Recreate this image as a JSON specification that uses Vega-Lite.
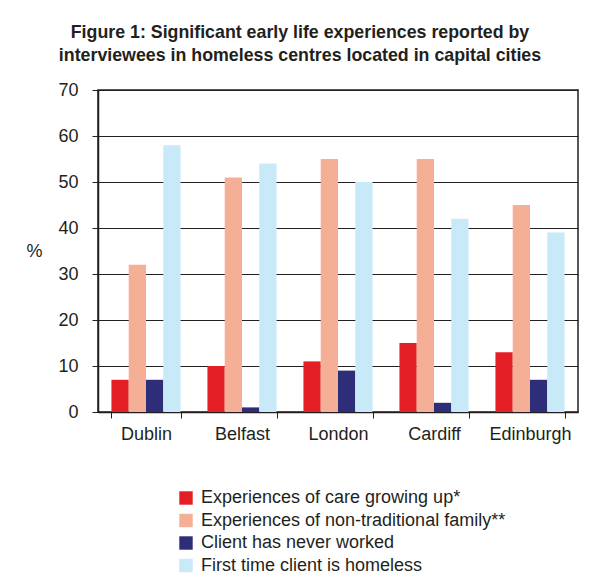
{
  "$schema": "https://vega.github.io/schema/vega-lite/v6.json",
  "width": 480,
  "height": 322,
  "autosize": {"type": "none"},
  "padding": {"left": 98, "top": 90, "right": 19, "bottom": 173},
  "background": "white",
  "title": {
    "text": ["Figure 1: Significant early life experiences reported by", "interviewees in homeless centres located in capital cities"],
    "font": "Liberation Sans",
    "fontSize": 17.8,
    "fontWeight": "bold",
    "color": "#231f20",
    "anchor": "middle",
    "dx": -38,
    "offset": 16,
    "lineHeight": 23
  },
  "data": {
    "values": [
      {"city": "Dublin", "series": "Experiences of care growing up*", "value": 7},
      {"city": "Dublin", "series": "Experiences of non-traditional family**", "value": 32},
      {"city": "Dublin", "series": "Client has never worked", "value": 7},
      {"city": "Dublin", "series": "First time client is homeless", "value": 58},
      {"city": "Belfast", "series": "Experiences of care growing up*", "value": 10},
      {"city": "Belfast", "series": "Experiences of non-traditional family**", "value": 51},
      {"city": "Belfast", "series": "Client has never worked", "value": 1},
      {"city": "Belfast", "series": "First time client is homeless", "value": 54},
      {"city": "London", "series": "Experiences of care growing up*", "value": 11},
      {"city": "London", "series": "Experiences of non-traditional family**", "value": 55},
      {"city": "London", "series": "Client has never worked", "value": 9},
      {"city": "London", "series": "First time client is homeless", "value": 50},
      {"city": "Cardiff", "series": "Experiences of care growing up*", "value": 15},
      {"city": "Cardiff", "series": "Experiences of non-traditional family**", "value": 55},
      {"city": "Cardiff", "series": "Client has never worked", "value": 2},
      {"city": "Cardiff", "series": "First time client is homeless", "value": 42},
      {"city": "Edinburgh", "series": "Experiences of care growing up*", "value": 13},
      {"city": "Edinburgh", "series": "Experiences of non-traditional family**", "value": 45},
      {"city": "Edinburgh", "series": "Client has never worked", "value": 7},
      {"city": "Edinburgh", "series": "First time client is homeless", "value": 39}
    ]
  },
  "mark": {"type": "bar"},
  "encoding": {
    "x": {
      "field": "city",
      "type": "nominal",
      "sort": ["Dublin", "Belfast", "London", "Cardiff", "Edinburgh"],
      "scale": {"paddingInner": 0.28, "paddingOuter": 0.14},
      "axis": {
        "title": null,
        "labelAngle": 0,
        "labelFont": "Liberation Sans",
        "labelFontSize": 18,
        "labelColor": "#231f20",
        "labelPadding": 7,
        "tickBand": "extent",
        "tickSize": 6,
        "tickColor": "#231f20",
        "domainColor": "#231f20",
        "domainWidth": 1.5
      }
    },
    "xOffset": {
      "field": "series",
      "type": "nominal",
      "sort": ["Experiences of care growing up*", "Experiences of non-traditional family**", "Client has never worked", "First time client is homeless"],
      "scale": {"paddingInner": 0, "paddingOuter": 0}
    },
    "y": {
      "field": "value",
      "type": "quantitative",
      "scale": {"domain": [0, 70]},
      "axis": {
        "title": "%",
        "titleAngle": 0,
        "titleFont": "Liberation Sans",
        "titleFontSize": 18,
        "titleFontWeight": "normal",
        "titleColor": "#231f20",
        "titleX": -64,
        "titleY": 170,
        "values": [0, 10, 20, 30, 40, 50, 60, 70],
        "labelFont": "Liberation Sans",
        "labelFontSize": 18,
        "labelColor": "#231f20",
        "labelPadding": 14,
        "tickSize": 6,
        "tickColor": "#231f20",
        "domainColor": "#231f20",
        "domainWidth": 1.5,
        "grid": true,
        "gridColor": "#231f20",
        "gridWidth": 1.2,
        "gridOpacity": 1
      }
    },
    "color": {
      "field": "series",
      "type": "nominal",
      "sort": ["Experiences of care growing up*", "Experiences of non-traditional family**", "Client has never worked", "First time client is homeless"],
      "scale": {
        "domain": ["Experiences of care growing up*", "Experiences of non-traditional family**", "Client has never worked", "First time client is homeless"],
        "range": ["#e31e24", "#f4af96", "#2e2d78", "#c7e9f8"]
      },
      "legend": {
        "title": null,
        "orient": "none",
        "legendX": 79,
        "legendY": 399,
        "symbolType": "square",
        "symbolSize": 180,
        "symbolStrokeWidth": 0,
        "labelFont": "Liberation Sans",
        "labelFontSize": 18,
        "labelColor": "#231f20",
        "rowPadding": 4.5,
        "labelOffset": 6,
        "labelLimit": 450
      }
    }
  },
  "config": {
    "view": {"stroke": "#231f20", "strokeWidth": 1.5}
  }
}
